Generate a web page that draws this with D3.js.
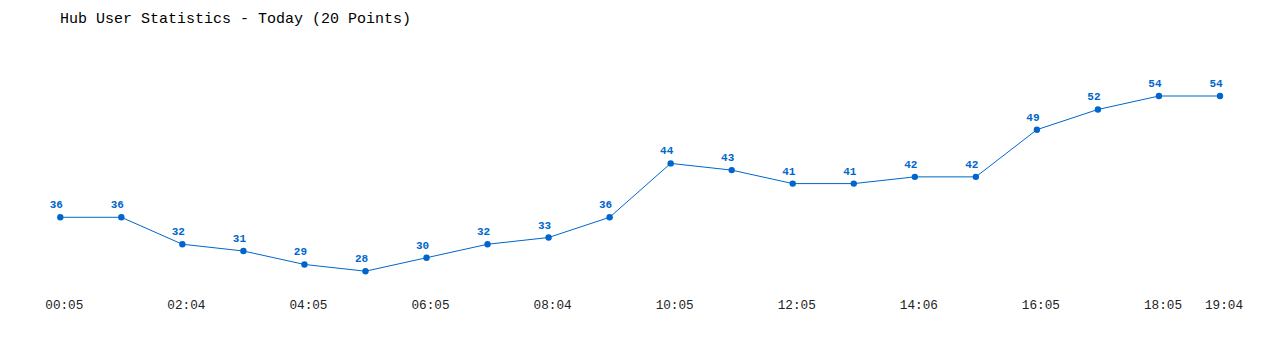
<!DOCTYPE html>
<html>
<head>
<meta charset="utf-8">
<title>Hub User Statistics</title>
<script src="https://d3js.org/d3.v7.min.js"></script>
<style>
  body { margin: 0; background: #fff; }
  svg { display: block; }
  text { font-family: "Liberation Mono", "DejaVu Sans Mono", monospace; }
</style>
</head>
<body>
<div id="chart"></div>
<script>
  // values, one per sample
  const users = [36, 36, 32, 31, 29, 28, 30, 32, 33, 36, 44, 43, 41, 41, 42, 42, 49, 52, 54, 54];
  // time labels shown under the chart (null = not labelled)
  const timeLabels = ["00:05", null, "02:04", null, "04:05", null, "06:05", null, "08:04", null,
                      "10:05", null, "12:05", null, "14:06", null, "16:05", null, "18:05", "19:04"];

  const width = 1280, height = 350;
  const blue = "#0066cc";

  const svg = d3.select("#chart").append("svg")
    .attr("width", width)
    .attr("height", height);

  svg.append("text")
    .attr("x", 60).attr("y", 23)
    .attr("font-size", 15)
    .attr("fill", "#000")
    .text("Hub User Statistics - Today (20 Points)");

  const x = d3.scaleLinear().domain([0, users.length - 1]).range([60.3, 1220]);
  const y = d3.scaleLinear().domain([28, 54]).range([271.2, 96]);

  // x axis labels only, no line or ticks
  const xAxis = d3.axisBottom(x)
    .tickValues(timeLabels.map((t, i) => t ? i : null).filter(i => i !== null))
    .tickFormat(i => timeLabels[i])
    .tickSize(0);

  const gx = svg.append("g")
    .attr("transform", "translate(3.5,297)")
    .call(xAxis);
  gx.select(".domain").remove();
  gx.selectAll("text")
    .attr("font-family", "'Liberation Mono', monospace")
    .attr("font-size", 12.7)
    .attr("fill", "#222");

  const line = d3.line()
    .x((d, i) => x(i))
    .y(d => y(d));

  svg.append("path")
    .datum(users)
    .attr("d", line)
    .attr("fill", "none")
    .attr("stroke", blue)
    .attr("stroke-width", 1);

  svg.selectAll("circle.pt")
    .data(users)
    .enter().append("circle")
    .attr("class", "pt")
    .attr("cx", (d, i) => x(i))
    .attr("cy", d => y(d))
    .attr("r", 3.2)
    .attr("fill", blue);

  svg.selectAll("text.val")
    .data(users)
    .enter().append("text")
    .attr("class", "val")
    .attr("x", (d, i) => x(i) - 4)
    .attr("y", d => y(d) - 9)
    .attr("text-anchor", "middle")
    .attr("font-size", 11)
    .attr("font-weight", "bold")
    .attr("fill", blue)
    .text(d => d);
</script>
</body>
</html>
